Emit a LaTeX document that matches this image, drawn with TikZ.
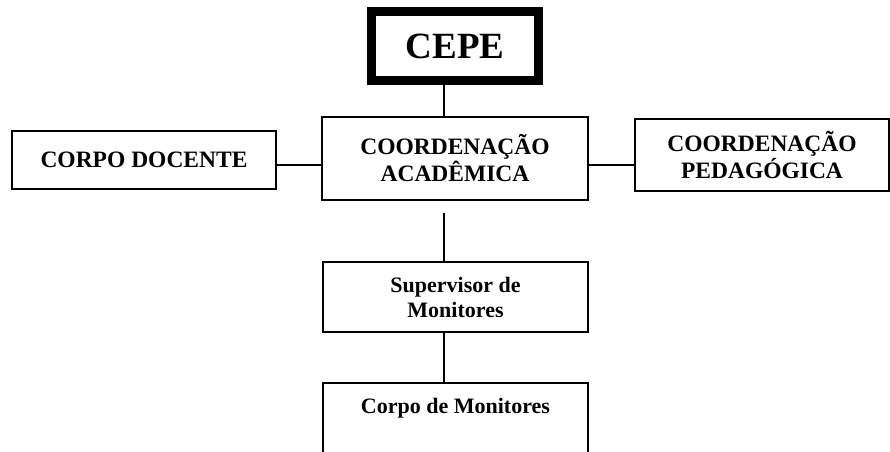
\documentclass[tikz,border=0pt]{standalone}
\usepackage{fontspec}
\setmainfont{Liberation Serif}
\begin{document}
\begin{tikzpicture}[x=1pt, y=1pt,
	caixa/.style={draw, line width=1.5pt, inner sep=0pt, align=center,
		font=\bfseries\fontsize{23.5}{27}\selectfont},
	caixamenor/.style={caixa, font=\bfseries\fontsize{22}{25}\selectfont},
	ligacao/.style={line width=1.5pt}]
	\useasboundingbox (0,0) rectangle (890,-451);
	\clip (0,0) rectangle (890,-451);
	% Caixas
	\node[draw, line width=8pt, minimum width=168pt, minimum height=70pt, inner sep=0pt,
		font=\bfseries\fontsize{37}{40}\selectfont] (cepe) at (455,-46) {CEPE};
	\draw[line width=1.5pt] ([shift={(8pt,-8pt)}]cepe.north west)
		rectangle ([shift={(-8pt,8pt)}]cepe.south east);
	\node[caixa, minimum width=266pt, minimum height=83pt] (acad) at (455,-158.5)
		{COORDENAÇÃO\\ACADÊMICA};
	\node[caixa, minimum width=264pt, minimum height=58pt] (docente) at (144,-160)
		{CORPO DOCENTE};
	\node[caixa, minimum width=254pt, minimum height=72pt] (pedag) at (762,-155)
		{COORDENAÇÃO\\PEDAGÓGICA};
	\node[caixamenor, minimum width=265pt, minimum height=70pt] (sup) at (455.5,-297)
		{Supervisor de\\Monitores};
	\node[caixamenor, minimum width=265pt, anchor=north, text height=31pt,
		text depth=60pt] (corpo) at (455.5,-382) {Corpo de Monitores};
	% Ligacoes
	\coordinate (eixo) at (444,-165);
	\draw[ligacao] (cepe.south -| eixo) -- (acad.north -| eixo);
	\draw[ligacao] (docente.east |- eixo) -- (acad.west |- eixo);
	\draw[ligacao] (acad.east |- eixo) -- (pedag.west |- eixo);
	\draw[ligacao] ([yshift=-12pt]acad.south -| eixo) -- (sup.north -| eixo);
	\draw[ligacao] (sup.south -| eixo) -- (corpo.north -| eixo);
\end{tikzpicture}
\end{document}
